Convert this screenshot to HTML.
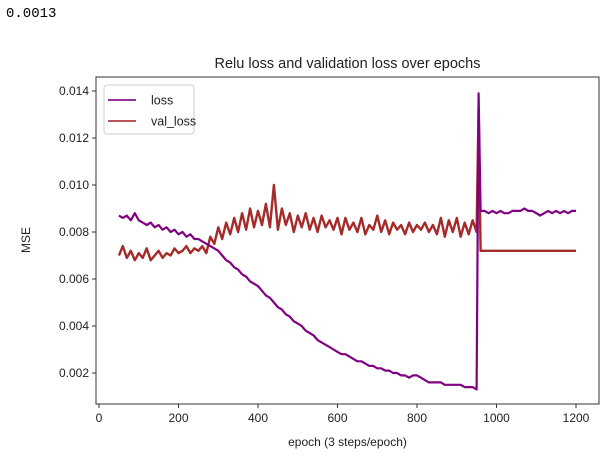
<!DOCTYPE html>
<html><head><meta charset="utf-8"><style>
body{margin:0;background:#fff;width:611px;height:462px;overflow:hidden}
#out{position:absolute;left:6px;top:6px;font:14px "Liberation Mono",monospace;color:#000}
svg{position:absolute;left:0;top:0}
text{font-family:"Liberation Sans",sans-serif;fill:#222}
</style></head><body>
<div id="out">0.0013</div>
<svg id="chart" width="611" height="462"></svg>
<script>
const xTicks=[0,200,400,600,800,1000,1200];
const yTicks=[0.002,0.004,0.006,0.008,0.010,0.012,0.014];
const yTickLabels=["0.002","0.004","0.006","0.008","0.010","0.012","0.014"];
const epochs=[];
for(let e=50;e<=950;e+=10)epochs.push(e);
epochs.push(955);
for(let e=960;e<=1200;e+=10)epochs.push(e);
const lossValues=[0.0087,0.0086,0.0087,0.0085,0.0088,0.0085,0.0084,0.0083,0.0084,0.0082,0.0083,0.0081,0.0082,0.0080,0.0081,0.0079,0.0080,0.0078,0.0079,0.0077,0.0077,
0.0076,0.0075,0.0074,0.0073,0.0072,0.0070,0.0068,0.0067,0.0065,0.0064,0.0062,0.0061,0.0059,0.0058,0.0057,
0.0055,0.0053,0.0052,0.0050,0.0048,0.0047,0.0045,0.0044,0.0042,0.0041,0.0040,0.0038,0.0037,0.0036,0.0034,0.0033,0.0032,0.0031,0.0030,0.0029,
0.0028,0.0028,0.0027,0.0026,0.0025,0.0025,0.0024,0.0023,0.0023,0.0022,0.0022,0.0021,0.0021,0.0020,0.0020,0.0019,0.0019,0.0018,0.0019,0.0019,
0.0018,0.0017,0.0016,0.0016,0.0016,0.0016,0.0015,0.0015,0.0015,0.0015,0.0015,0.0014,0.0014,0.0014,0.0013,
0.0139,
0.0089,0.0089,0.0088,0.0089,0.0088,0.0089,0.0088,0.0088,0.0089,0.0089,0.0089,0.0090,0.0089,0.0089,0.0088,0.0087,0.0088,0.0089,0.0088,0.0089,0.0088,0.0089,0.0088,0.0089,0.0089];
const valLossValues=[0.0070,0.0074,0.0069,0.0072,0.0068,0.0071,0.0069,0.0073,0.0068,0.0070,0.0072,0.0069,0.0071,0.0070,0.0073,0.0071,0.0072,0.0074,0.0071,0.0073,0.0072,
0.0074,0.0071,0.0078,0.0075,0.0082,0.0077,0.0084,0.0079,0.0086,0.0080,0.0088,0.0081,0.0090,0.0082,0.0089,
0.0083,0.0092,0.0082,0.0100,0.0081,0.0090,0.0083,0.0088,0.0080,0.0087,0.0082,0.0088,0.0081,0.0086,0.0080,0.0087,0.0082,0.0085,0.0081,0.0086,
0.0079,0.0086,0.0081,0.0084,0.0080,0.0086,0.0079,0.0083,0.0081,0.0087,0.0080,0.0085,0.0079,0.0084,0.0081,0.0083,0.0079,0.0084,0.0080,0.0083,
0.0081,0.0084,0.0080,0.0083,0.0079,0.0086,0.0078,0.0085,0.0080,0.0086,0.0078,0.0084,0.0079,0.0085,0.0080,
0.0133,
0.0072,0.0072,0.0072,0.0072,0.0072,0.0072,0.0072,0.0072,0.0072,0.0072,0.0072,0.0072,0.0072,0.0072,0.0072,0.0072,0.0072,0.0072,0.0072,0.0072,0.0072,0.0072,0.0072,0.0072,0.0072];

const svg=document.getElementById('chart');
const NS='http://www.w3.org/2000/svg';
const L=96,R=599,T=77,B=404;
const xS=v=>99+v*(576-99)/1200;
const yS=v=>373-(v-0.002)/0.002*47;
function mk(tag,attrs,parent){const e=document.createElementNS(NS,tag);for(const k in attrs)e.setAttribute(k,attrs[k]);(parent||svg).appendChild(e);return e;}

function series(vals,color,name,w){
  const d=vals.map((v,i)=>(i?'L':'M')+xS(epochs[i]).toFixed(1)+','+yS(v).toFixed(1)).join('');
  const p=mk('path',{d:d,fill:'none',stroke:color,'stroke-width':w,'stroke-linejoin':'round'});
  
  
}
series(valLossValues,'#a52a2a','val-loss-line',2.4);
series(lossValues,'#800080','loss-line',2.2);

const frame=mk('rect',{x:L,y:T,width:R-L,height:B-T,fill:'none',stroke:'#333','stroke-width':1});



xTicks.forEach(v=>{
  const x=xS(v);
  mk('line',{x1:x,x2:x,y1:B,y2:B+4,stroke:'#333'});
  const t=mk('text',{x:x,y:B+18,'text-anchor':'middle','font-size':12});
  t.textContent=v;
  
  
});
yTicks.forEach((v,i)=>{
  const y=yS(v);
  mk('line',{x1:L-4,x2:L,y1:y,y2:y,stroke:'#333'});
  const t=mk('text',{x:L-7,y:y+4,'text-anchor':'end','font-size':12});
  t.textContent=yTickLabels[i];
  
  
});
const title=mk('text',{x:(L+R)/2,y:68,'text-anchor':'middle','font-size':14.5});
title.textContent='Relu loss and validation loss over epochs';


const xl=mk('text',{x:(L+R)/2,y:446,'text-anchor':'middle','font-size':12});
xl.textContent='epoch (3 steps/epoch)';


const yl=mk('text',{x:0,y:0,'text-anchor':'middle','font-size':12,transform:'translate(30,240) rotate(-90)'});
yl.textContent='MSE';



const lg=mk('g',{});


mk('rect',{x:104,y:85,width:90,height:49,rx:3,fill:'#fff','fill-opacity':0.8,stroke:'#ccc'},lg);
[['loss','#800080',100],['val_loss','#a52a2a',121]].forEach(([n,c,y])=>{
  mk('line',{x1:108,x2:136,y1:y,y2:y,stroke:c,'stroke-width':2,'stroke-opacity':0.8},lg);
  const t=mk('text',{x:151,y:y+4.5,'font-size':12.5},lg);
  t.textContent=n;
  
  
});
</script>
</body></html>
